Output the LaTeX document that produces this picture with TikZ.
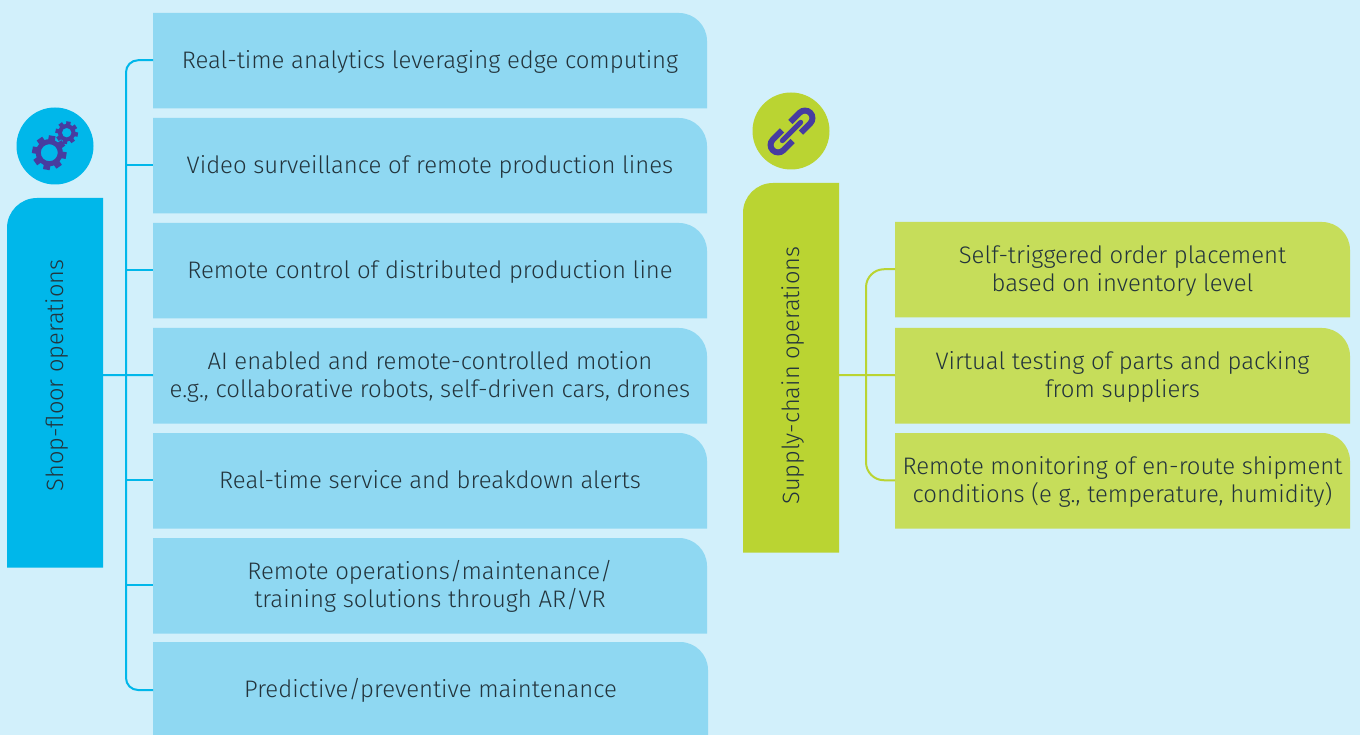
\documentclass[tikz,border=0pt]{standalone}
\usepackage{fontspec}
\setmainfont{Fira Sans Light}
\usetikzlibrary{calc}
\definecolor{bgc}{HTML}{D2F0FB}
\definecolor{bluebar}{HTML}{00B7EA}
\definecolor{bluebox}{HTML}{8FD8F2}
\definecolor{greenbar}{HTML}{BAD432}
\definecolor{greenbox}{HTML}{C6DD5A}
\definecolor{purp}{HTML}{473CA0}
\definecolor{ink}{HTML}{23343C}
\tikzset{
  x=1pt,y=-1pt,
  lbl/.style={text=ink,font=\fontsize{23.9}{28}\selectfont,align=center,inner sep=0pt},
  sidelbl/.style={text=ink,font=\fontsize{23.6}{28}\selectfont,align=center,inner sep=0pt,rotate=90},
  bluelink/.style={draw=bluebar,line width=2pt},
  greenlink/.style={draw=greenbar,line width=2pt},
  iconcircle/.style={circle,minimum size=77pt,inner sep=0pt},
}
% name, x1, y1, x2, y2, colour, text : box with rounded top-right corner
\newcommand{\itembox}[7]{%
  \fill[#6] (#2,#5) -- (#2,#3) [rounded corners=28pt] -- (#4,#3) [sharp corners] -- (#4,#5) -- cycle;
  \coordinate (#1p) at (#2,{(#3+#5)/2-0.5});
  \node[lbl] (#1) at ({(#2+#4)/2},{(#3+#5)/2+1.5}) {\vphantom{Ag}#7};
}
% name, x1, y1, x2, y2, colour, text : bar with rounded top-left corner
\newcommand{\sidebar}[7]{%
  \fill[#6] (#4,#5) -- (#4,#3) [rounded corners=30pt] -- (#2,#3) [sharp corners] -- (#2,#5) -- cycle;
  \coordinate (#1p) at (#4,375);
  \node[sidelbl] (#1) at ({(#2+#4)/2+1.8},375.5) {\vphantom{Ag}#7};
}
% gear: centre x, y, outer radius, root radius, hole radius
\newcommand{\gearicon}[5]{%
  \fill[purp,even odd rule] (#1,#2) circle[radius=#5] (#1,#2) circle[radius=#4];
  \foreach \a in {10,55,...,325}{
    \fill[purp] ($(#1,#2)+(\a-15:#4-0.5)$) -- ($(#1,#2)+(\a-11:#3)$) -- ($(#1,#2)+(\a+11:#3)$) -- ($(#1,#2)+(\a+15:#4-0.5)$) -- cycle;
  }
}
\begin{document}
\begin{tikzpicture}
\useasboundingbox (0,0) rectangle (1360,735);
\fill[bgc] (0,0) rectangle (1360,735);

\sidebar{shop}{7}{198}{103}{567.5}{bluebar}{Shop-floor operations}
\sidebar{supply}{743}{183}{839}{552.5}{greenbar}{Supply-chain operations}

\itembox{a1}{153}{13}{707}{108.5}{bluebox}{Real-time analytics leveraging edge computing}
\itembox{a2}{153}{118}{707}{213.5}{bluebox}{Video surveillance of remote production lines}
\itembox{a3}{153}{223}{707}{318.5}{bluebox}{Remote control of distributed production line}
\itembox{a4}{153}{328}{707}{423.5}{bluebox}{AI enabled and remote-controlled motion\\e.g., collaborative robots, self-driven cars, drones}
\itembox{a5}{153}{433}{707}{528.5}{bluebox}{Real-time service and breakdown alerts}
\begin{scope}[lbl/.append style={yshift=1.2pt}]
\itembox{a6}{153}{538}{707}{633.5}{bluebox}{Remote operations/maintenance/\\training solutions through AR/VR}
\end{scope}
\itembox{a7}{153}{642}{708}{735}{bluebox}{Predictive/preventive maintenance}
\coordinate (a7p) at (153,690);

\itembox{b1}{895}{222}{1350}{317.5}{greenbox}{Self-triggered order placement\\based on inventory level}
\itembox{b2}{895}{328}{1350}{423.5}{greenbox}{Virtual testing of parts and packing\\from suppliers}
\itembox{b3}{895}{433}{1350}{528.5}{greenbox}{Remote monitoring of en-route shipment\\conditions (e g., temperature, humidity)}

% connectors
\coordinate (hubA) at (126,375);
\coordinate (hubB) at (866,375);
\draw[bluelink] (shopp) -- (a4p);
\draw[bluelink,rounded corners=12pt] (hubA) |- (a1p);
\draw[bluelink,rounded corners=12pt] (hubA) |- (a7p);
\foreach \n in {a2,a3,a5,a6}{\draw[bluelink] (hubA |- \n p) -- (\n p);}
\draw[greenlink] (supplyp) -- (b2p);
\draw[greenlink,rounded corners=18pt] (hubB) |- (b1p);
\draw[greenlink,rounded corners=18pt] (hubB) |- (b3p);

% icons
\node[iconcircle,fill=bluebar] (gearcirc) at (55,146) {};
\gearicon{49.3}{152.7}{17.5}{13.5}{8.5}
\gearicon{66.7}{132.7}{11.5}{8.8}{4.8}
\node[iconcircle,fill=greenbar] (chaincirc) at (791,131) {};
\begin{scope}[shift={(791.5,131.5)},rotate=45,line width=6pt]
  \draw[color=purp] (6,-7.5) -- (19,-7.5) arc[start angle=-90,end angle=90,radius=7.5] -- (6,7.5);
  \draw[color=purp] (-6,-7.5) -- (-19,-7.5) arc[start angle=270,end angle=90,radius=7.5] -- (-6,7.5);
  \draw[color=purp,line width=5pt,line cap=round] (-13,0) -- (13,0);
\end{scope}
\end{tikzpicture}
\end{document}
